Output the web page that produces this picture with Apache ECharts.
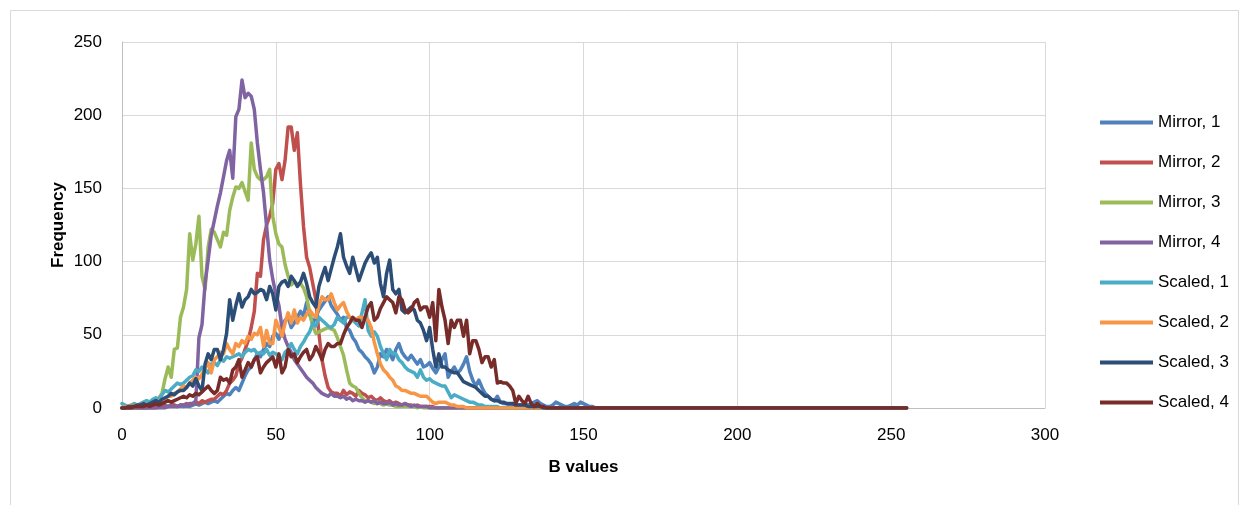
<!DOCTYPE html>
<html>
<head>
<meta charset="utf-8">
<title>B values histogram</title>
<script src="https://cdn.jsdelivr.net/npm/echarts@6/dist/echarts.min.js"></script>
<style>
    html, body {margin: 0; padding: 0; background: #fff;}
    #main {width: 1246px; height: 505px;}
</style>
</head>
<body>
<div id="main"></div>
<script>
// frequency of each B value (index = B, 0..159); every curve is flat at 0 from there up to lastB
var seriesNames = ["Mirror, 1", "Mirror, 2", "Mirror, 3", "Mirror, 4", "Scaled, 1", "Scaled, 2", "Scaled, 3", "Scaled, 4"];
var xTicks = [0, 50, 100, 150, 200, 250, 300];
var yTicks = [0, 50, 100, 150, 200, 250];
var lastB = 255;

var mirror1 = [
    0, 0, 0, 0, 0, 0, 0, 0, 0, 1,
    1, 1, 1, 1, 2, 1, 2, 2, 1, 2,
    1, 2, 1, 2, 3, 2, 3, 4, 3, 4,
    5, 4, 6, 8, 10, 9, 12, 14, 12, 17,
    22, 26, 28, 33, 37, 35, 40, 44, 42, 49,
    51, 47, 55, 60, 62, 55, 58, 62, 66, 63,
    72, 64, 58, 62, 67, 70, 73, 76, 70, 67,
    64, 60, 62, 55, 53, 48, 45, 40, 38, 35,
    33, 30, 24, 28, 37, 35, 40, 37, 33, 40,
    44, 38, 35, 33, 36, 33, 30, 33, 28, 29,
    31, 27, 24, 28, 33, 37, 21, 25, 28, 24,
    26, 30, 35, 25, 19, 15, 19, 14, 10, 8,
    6, 5, 8, 4, 3, 3, 2, 3, 2, 2,
    2, 3, 2, 3, 4, 5, 3, 2, 1, 1,
    2, 4, 3, 2, 1, 1, 2, 3, 2, 4,
    3, 2, 1, 1, 0, 0, 0, 0, 0, 0
];
var mirror2 = [
    0, 0, 0, 0, 0, 0, 0, 0, 0, 0,
    0, 0, 1, 1, 1, 1, 2, 2, 1, 2,
    2, 3, 2, 3, 4, 3, 5, 4, 5, 6,
    6, 8, 10, 9, 12, 17, 19, 22, 30, 34,
    40, 46, 55, 66, 92, 90, 115, 125, 131, 140,
    163, 167, 156, 169, 192, 192, 176, 188, 153, 124,
    103, 96, 85, 74, 51, 33, 22, 14, 11, 10,
    10, 8, 12, 9, 11, 10, 8, 12, 10, 9,
    7, 8, 6, 5, 7, 5, 4, 5, 3, 4,
    3, 2, 3, 2, 2, 1, 2, 1, 1, 1,
    1, 1, 0, 0, 0, 0, 0, 0, 0, 0,
    0, 0, 0, 0, 0, 0, 0, 0, 0, 0,
    0, 0, 0, 0, 0, 0, 0, 0, 0, 0,
    0, 0, 0, 0, 0, 0, 0, 0, 0, 0,
    0, 0, 0, 0, 0, 0, 0, 0, 0, 0,
    0, 0, 0, 0, 0, 0, 0, 0, 0, 0
];
var mirror3 = [
    0, 0, 0, 0, 0, 0, 1, 1, 1, 2,
    3, 4, 7, 10, 20, 28, 21, 40, 41, 62,
    69, 81, 119, 101, 112, 131, 90, 81, 110, 122,
    120, 115, 110, 120, 118, 135, 144, 151, 150, 154,
    148, 142, 181, 163, 158, 156, 156, 158, 163, 131,
    119, 112, 110, 98, 90, 84, 86, 85, 85, 82,
    76, 65, 56, 51, 52, 53, 54, 55, 54, 53,
    48, 42, 36, 26, 17, 15, 14, 10, 7, 5,
    5, 4, 3, 4, 3, 2, 3, 2, 2, 1,
    1, 1, 2, 1, 1, 1, 0, 1, 0, 0,
    0, 0, 0, 0, 0, 0, 0, 0, 0, 0,
    0, 0, 0, 0, 0, 0, 0, 0, 0, 0,
    0, 0, 0, 0, 0, 0, 0, 0, 0, 0,
    0, 0, 0, 0, 0, 0, 0, 0, 0, 0,
    0, 0, 0, 0, 0, 0, 0, 0, 0, 0,
    0, 0, 0, 0, 0, 0, 0, 0, 0, 0
];
var mirror4 = [
    0, 0, 0, 0, 0, 0, 0, 0, 0, 0,
    0, 0, 0, 0, 0, 1, 1, 1, 1, 2,
    2, 2, 3, 3, 5, 48, 57, 85, 101, 118,
    128, 138, 147, 158, 169, 176, 157, 199, 204, 224,
    212, 215, 213, 204, 181, 163, 147, 124, 101, 88,
    78, 70, 55, 47, 42, 38, 33, 30, 27, 24,
    21, 19, 17, 14, 12, 10, 9, 8, 10, 8,
    8, 7, 8, 6, 7, 5, 6, 5, 5, 4,
    5, 4, 5, 3, 4, 3, 3, 4, 2, 3,
    2, 2, 3, 2, 1, 2, 1, 1, 1, 1,
    0, 0, 0, 0, 0, 0, 0, 0, 0, 0,
    0, 0, 0, 0, 0, 0, 0, 0, 0, 0,
    0, 0, 0, 0, 0, 0, 0, 0, 0, 0,
    0, 0, 0, 0, 0, 0, 0, 0, 0, 0,
    0, 0, 0, 0, 0, 0, 0, 0, 0, 0,
    0, 0, 0, 0, 0, 0, 0, 0, 0, 0
];
var scaled1 = [
    3, 2, 1, 2, 3, 2, 3, 4, 5, 4,
    6, 7, 6, 9, 12, 11, 13, 15, 17, 16,
    17, 19, 21, 22, 26, 25, 28, 26, 24, 30,
    31, 29, 33, 32, 35, 34, 35, 36, 37, 35,
    38, 40, 39, 40, 37, 38, 37, 40, 36, 38,
    37, 35, 33, 38, 40, 44, 40, 37, 42, 45,
    49, 52, 58, 56, 62, 60, 58, 56, 55, 57,
    62, 60, 58, 62, 62, 60, 58, 56, 65, 74,
    53, 49, 52, 49, 42, 37, 33, 40, 37, 37,
    33, 31, 28, 26, 25, 24, 21, 26, 21, 19,
    20, 18, 17, 16, 15, 15, 11, 7, 9, 8,
    7, 6, 5, 4, 4, 3, 2, 2, 1, 1,
    1, 1, 1, 0, 0, 0, 0, 0, 0, 0,
    0, 0, 0, 0, 0, 0, 0, 0, 0, 0,
    0, 0, 0, 0, 0, 0, 0, 0, 0, 0,
    0, 0, 0, 0, 0, 0, 0, 0, 0, 0
];
var scaled2 = [
    0, 1, 1, 2, 1, 2, 2, 3, 2, 3,
    4, 3, 5, 5, 6, 8, 8, 10, 11, 13,
    15, 14, 17, 19, 21, 20, 23, 27, 31, 24,
    33, 35, 38, 37, 44, 40, 37, 44, 42, 46,
    44, 49, 47, 51, 50, 55, 42, 53, 44, 44,
    60, 55, 49, 58, 65, 58, 67, 58, 62, 60,
    64, 67, 64, 62, 70, 76, 74, 74, 78, 72,
    67, 70, 72, 66, 62, 61, 60, 62, 62, 61,
    60, 55, 45, 37, 30, 26, 24, 21, 19, 15,
    14, 12, 12, 11, 10, 10, 9, 8, 8, 8,
    6, 4, 3, 4, 4, 4, 3, 2, 2, 1,
    1, 1, 0, 0, 0, 0, 0, 0, 0, 0,
    0, 0, 0, 0, 0, 0, 0, 0, 0, 0,
    0, 0, 0, 0, 0, 0, 0, 0, 0, 0,
    0, 0, 0, 0, 0, 0, 0, 0, 0, 0,
    0, 0, 0, 0, 0, 0, 0, 0, 0, 0
];
var scaled3 = [
    0, 0, 1, 1, 1, 2, 2, 3, 2, 3,
    4, 5, 4, 6, 7, 8, 10, 9, 11, 12,
    12, 14, 17, 15, 20, 15, 12, 30, 37, 33,
    40, 40, 33, 40, 51, 74, 60, 70, 78, 69,
    74, 76, 81, 78, 79, 81, 80, 74, 83, 78,
    67, 83, 86, 87, 83, 90, 87, 83, 86, 92,
    85, 76, 72, 69, 83, 90, 96, 87, 95, 103,
    110, 119, 103, 97, 92, 103, 95, 87, 93, 99,
    103, 106, 99, 103, 85, 76, 92, 101, 81, 78,
    81, 67, 65, 67, 69, 67, 60, 58, 53, 46,
    55, 40, 28, 37, 28, 28, 26, 25, 24, 24,
    21, 18, 17, 16, 15, 14, 12, 10, 8, 8,
    6, 5, 5, 4, 4, 3, 3, 3, 2, 2,
    2, 2, 1, 1, 1, 1, 1, 0, 0, 0,
    0, 0, 0, 0, 0, 0, 0, 0, 0, 0,
    0, 0, 0, 0, 0, 0, 0, 0, 0, 0
];
var scaled4 = [
    0, 0, 0, 0, 1, 1, 1, 1, 2, 1,
    2, 3, 2, 3, 4, 5, 4, 5, 6, 7,
    8, 7, 9, 8, 10, 9, 11, 13, 15, 12,
    10, 12, 21, 19, 20, 17, 26, 28, 33, 21,
    26, 31, 28, 33, 35, 24, 28, 31, 33, 35,
    28, 37, 24, 28, 40, 35, 37, 31, 35, 38,
    40, 33, 36, 42, 38, 33, 40, 44, 42, 42,
    44, 44, 50, 55, 58, 62, 60, 60, 55, 62,
    69, 72, 60, 62, 68, 72, 76, 74, 72, 65,
    76, 74, 67, 65, 67, 72, 74, 67, 69, 69,
    62, 72, 46, 81, 69, 60, 44, 60, 55, 60,
    60, 49, 60, 37, 46, 46, 40, 31, 35, 35,
    28, 33, 17, 18, 17, 17, 15, 12, 3, 8,
    5, 3, 8, 3, 1, 3, 1, 1, 0, 0,
    0, 0, 0, 0, 0, 0, 0, 0, 0, 0,
    0, 0, 0, 0, 0, 0, 0, 0, 0, 0
];

var allValues = [mirror1, mirror2, mirror3, mirror4, scaled1, scaled2, scaled3, scaled4];
var colors = ["#4F81BD", "#C0504D", "#9BBB59", "#8064A2", "#4BACC6", "#F79646", "#2C4D75", "#772C2A"];
var font = "'Liberation Sans', Arial, sans-serif";

var toPoints = function (arr) {
    var p = [];
    for (var i = 0; i < arr.length; i++) {
        p.push([i, arr[i]]);
    }
    // flat zero run out to the last B value
    p.push([lastB, 0]);
    return p;
};

var series = [];
for (var i = 0; i < seriesNames.length; i++) {
    series.push({
        name: seriesNames[i],
        type: 'line',
        symbol: 'none',
        smooth: false,
        data: toPoints(allValues[i]),
        lineStyle: {width: 3.5, color: colors[i], cap: 'round', join: 'round'},
        itemStyle: {color: colors[i]}
    });
}

var myChart = echarts.init(document.getElementById('main'), null, {renderer: 'canvas'});
var option = {
    animation: false,
    backgroundColor: '#fff',
    graphic: [{
        type: 'rect',
        shape: {x: 10.5, y: 10.5, width: 1228, height: 510},
        style: {fill: 'none', stroke: '#d9d9d9', lineWidth: 1},
        silent: true
    }],
    grid: {left: 122, right: 201, top: 42, bottom: 97, containLabel: false},
    legend: {
        orient: 'vertical',
        left: 1095,
        top: 109,
        icon: 'rect',
        itemWidth: 53,
        itemHeight: 4,
        itemGap: 23,
        textStyle: {fontFamily: font, fontSize: 17, color: '#000', padding: [0, 0, 0, 0]},
        data: seriesNames
    },
    xAxis: {
        type: 'value',
        min: xTicks[0],
        max: xTicks[xTicks.length - 1],
        interval: 50,
        name: 'B values',
        nameLocation: 'middle',
        nameGap: 51,
        nameMoveOverlap: false,
        nameTextStyle: {fontFamily: font, fontSize: 17, fontWeight: 'bold', color: '#000'},
        axisLine: {lineStyle: {color: '#bfbfbf', width: 1}},
        axisTick: {show: false},
        axisLabel: {margin: 19, fontFamily: font, fontSize: 17, color: '#000'},
        splitLine: {show: true, lineStyle: {color: '#d9d9d9', width: 1}}
    },
    yAxis: {
        type: 'value',
        min: yTicks[0],
        max: yTicks[yTicks.length - 1],
        interval: 50,
        name: 'Frequency',
        nameLocation: 'middle',
        nameGap: 55,
        nameRotate: 90,
        nameMoveOverlap: false,
        nameTextStyle: {fontFamily: font, fontSize: 17, fontWeight: 'bold', color: '#000'},
        axisLine: {show: true, lineStyle: {color: '#bfbfbf', width: 1}},
        axisTick: {show: false},
        axisLabel: {margin: 20, fontFamily: font, fontSize: 17, color: '#000'},
        splitLine: {show: true, lineStyle: {color: '#d9d9d9', width: 1}}
    },
    series: series
};
myChart.setOption(option);
</script>
</body>
</html>
